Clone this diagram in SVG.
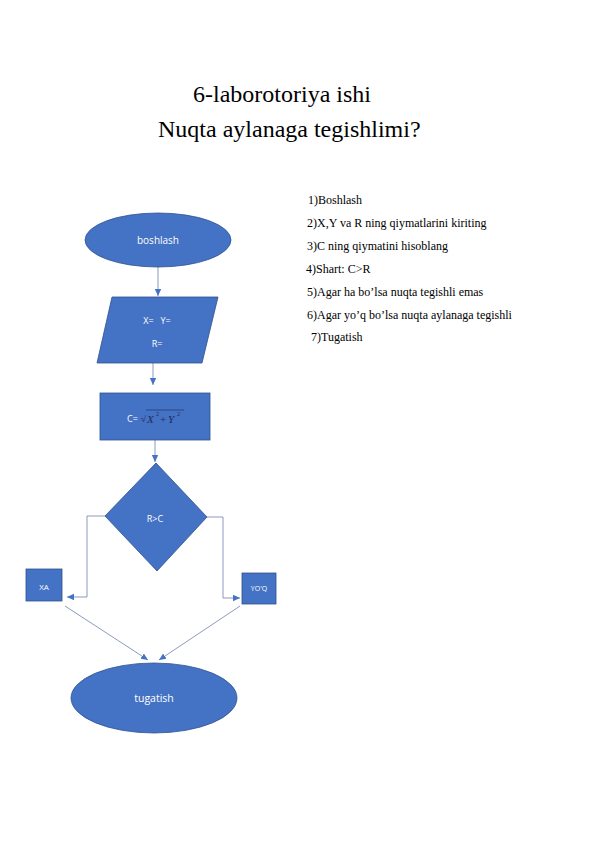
<svg xmlns="http://www.w3.org/2000/svg" width="596" height="842" viewBox="0 0 596 842">
<style>
.shape{fill:#4472C4;stroke:#2F528F;stroke-width:0.8}
.lbl{font-family:"Open Sans","Liberation Sans",sans-serif;fill:#ffffff;text-anchor:middle;dominant-baseline:central;white-space:pre}
.conn{fill:none;stroke:#7F8FB8;stroke-width:0.9}
.title{font-family:"Liberation Serif",serif;font-size:24px;fill:#000}
.step{font-family:"Liberation Serif",serif;font-size:12px;fill:#000}
</style>
<defs>
<marker id="ah" markerWidth="8" markerHeight="8" refX="7" refY="4" orient="auto" markerUnits="userSpaceOnUse">
<path d="M0,0.8 L7,4 L0,7.2 Z" fill="#4472C4"/>
</marker>
</defs>
<rect width="596" height="842" fill="#ffffff"/>
<g id="title">
<text class="title" x="193" y="102">6-laborotoriya ishi</text>
<text class="title" x="158" y="137">Nuqta aylanaga tegishlimi?</text>
</g>
<g id="steps">
<text class="step" x="308" y="204">1)Boshlash</text>
<text class="step" x="307" y="227">2)X,Y va R ning qiymatlarini kiriting</text>
<text class="step" x="307" y="250">3)C ning qiymatini hisoblang</text>
<text class="step" x="306" y="273">4)Shart: C&gt;R</text>
<text class="step" x="307" y="296">5)Agar ha bo’lsa nuqta tegishli emas</text>
<text class="step" x="307" y="319">6)Agar yo’q bo’lsa nuqta aylanaga tegishli</text>
<text class="step" x="311" y="341">7)Tugatish</text>
</g>
<g id="connectors">
<line class="conn" x1="158" y1="267" x2="158" y2="296" marker-end="url(#ah)"/>
<line class="conn" x1="153" y1="363" x2="153" y2="385" marker-end="url(#ah)"/>
<line class="conn" x1="155" y1="440" x2="155" y2="462" marker-end="url(#ah)"/>
<polyline class="conn" points="105,516 87,516 87,597 67,597" marker-end="url(#ah)"/>
<polyline class="conn" points="207,517 223,517 223,598 240,598" marker-end="url(#ah)"/>
<line class="conn" x1="65" y1="606" x2="148" y2="660" marker-end="url(#ah)"/>
<line class="conn" x1="240" y1="606" x2="159" y2="660" marker-end="url(#ah)"/>
</g>
<g id="boshlash">
<ellipse class="shape" cx="158" cy="240" rx="73" ry="27"/>
<text class="lbl" x="158" y="240" font-size="10">boshlash</text>
</g>
<g id="input">
<polygon class="shape" points="112,297 218,297 202,363 97,363"/>
<text class="lbl" x="157" y="320" font-size="9" xml:space="preserve">X=   Y=</text>
<text class="lbl" x="157" y="343" font-size="9">R=</text>
</g>
<g id="compute">
<rect class="shape" x="100" y="393" width="110" height="47"/>
<text x="127" y="422" font-family="Open Sans, Liberation Sans, sans-serif" font-size="9" fill="#ffffff">C=</text>
<text x="141" y="422" font-family="Liberation Serif, serif" font-size="9" fill="#1f2a5a">√</text>
<line x1="146" y1="410" x2="184" y2="410" stroke="#1f2a5a" stroke-width="0.6"/>
<text x="147" y="423" font-family="Liberation Serif, serif" font-size="11" font-style="italic" fill="#1f2a5a">X</text>
<text x="156" y="416" font-family="Liberation Serif, serif" font-size="6" fill="#1f2a5a">2</text>
<text x="160" y="423" font-family="Liberation Serif, serif" font-size="11" fill="#1f2a5a">+</text>
<text x="168" y="423" font-family="Liberation Serif, serif" font-size="11" font-style="italic" fill="#1f2a5a">Y</text>
<text x="177" y="416" font-family="Liberation Serif, serif" font-size="6" fill="#1f2a5a">2</text>
</g>
<g id="decision">
<polygon class="shape" points="156,463 207,517 157,571 105,516"/>
<text class="lbl" x="155" y="518" font-size="9">R&gt;C</text>
</g>
<g id="xa">
<rect class="shape" x="26" y="569" width="36" height="32"/>
<text class="lbl" x="44" y="586" font-size="8">XA</text>
</g>
<g id="yoq">
<rect class="shape" x="242" y="573" width="34" height="31"/>
<text class="lbl" x="259" y="588" font-size="7">YO'Q</text>
</g>
<g id="tugatish">
<ellipse class="shape" cx="154" cy="698" rx="83" ry="35"/>
<text class="lbl" x="154" y="698" font-size="10.5">tugatish</text>
</g>
</svg>
